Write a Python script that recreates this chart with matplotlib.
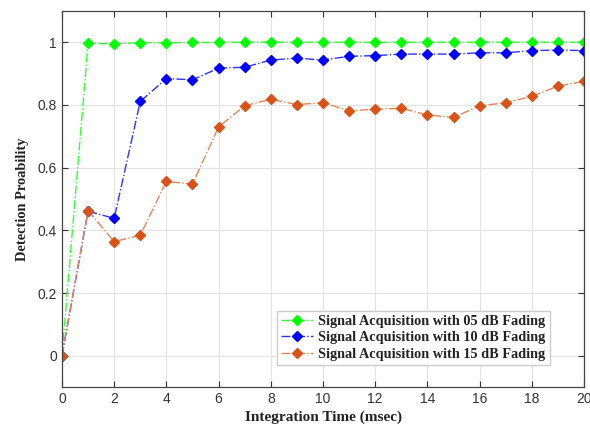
import numpy as np
import matplotlib
matplotlib.use("Agg")
import matplotlib.pyplot as plt

# integration time (msec)
t = np.arange(0, 21)

pd_05 = [0, 0.996, 0.995, 0.998, 0.998, 0.999, 0.999, 1.0, 1.0, 1.0, 1.0,
         1.0, 0.999, 1.0, 1.0, 1.0, 1.0, 1.0, 1.0, 1.0, 1.0]
pd_10 = [0, 0.461, 0.438, 0.811, 0.884, 0.880, 0.917, 0.920, 0.943, 0.949, 0.943,
         0.955, 0.957, 0.962, 0.962, 0.962, 0.966, 0.966, 0.973, 0.975, 0.973]
pd_15 = [0, 0.463, 0.364, 0.384, 0.556, 0.547, 0.730, 0.797, 0.818, 0.801, 0.807,
         0.781, 0.786, 0.789, 0.768, 0.760, 0.797, 0.807, 0.827, 0.860, 0.875]

labels = ["Signal Acquisition with 05 dB Fading",
          "Signal Acquisition with 10 dB Fading",
          "Signal Acquisition with 15 dB Fading"]
colors = ["#00ff00", "#0000ff", "#d95319"]
line_colors = ["#33ff33", "#3030ff", "#e8845a"]

fig = plt.figure(figsize=(5.9, 4.32), dpi=100)
ax = fig.add_axes([0.105, 0.104, 0.885, 0.871])

for y, lab, c, lc in zip([pd_05, pd_10, pd_15], labels, colors, line_colors):
    ax.plot(t, y, linestyle="-.", color=lc, linewidth=1.0, marker="D",
            markersize=5.5, markerfacecolor=c, markeredgecolor=c, label=lab)

ax.set_xlim(0, 20)
ax.set_ylim(-0.1, 1.1)
ax.set_xticks(np.arange(0, 21, 2))
ax.set_yticks([0, 0.2, 0.4, 0.6, 0.8, 1])
ax.set_yticklabels(["0", "0.2", "0.4", "0.6", "0.8", "1"])
ax.grid(True, color="#e3e3e3", linewidth=0.8)
ax.tick_params(direction="in", top=True, right=True, length=4, color="#333333",
               labelsize=10, labelcolor="#333333")
for lbl in ax.get_xticklabels() + ax.get_yticklabels():
    lbl.set_family("Liberation Sans")
for s in ax.spines.values():
    s.set_color("#444444")
    s.set_linewidth(0.9)

ax.set_xlabel("Integration Time (msec)", family="Liberation Serif", fontweight="bold",
              fontsize=11, color="#222222", labelpad=3)
ax.set_ylabel("Detection Proability", family="Liberation Serif", fontweight="bold",
              fontsize=10.4, color="#222222", labelpad=6)

leg = ax.legend(loc="lower right", bbox_to_anchor=(0.948, 0.04),
                prop={"family": "Liberation Serif", "size": 10.3, "weight": "bold"},
                fancybox=False, framealpha=1, edgecolor="#cccccc",
                handlelength=2.2, borderpad=0.3, labelspacing=0.22, handletextpad=0.4)
for txt in leg.get_texts():
    txt.set_color("#222222")

fig.savefig("out.png", dpi=100)
